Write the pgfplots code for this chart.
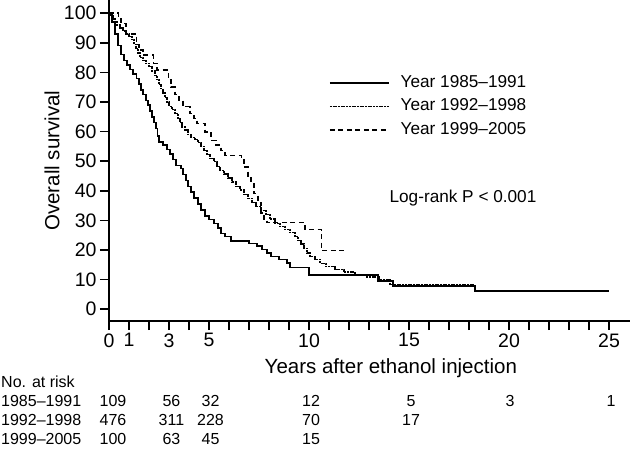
\documentclass[border=0pt]{standalone}
\usepackage{fontspec}
\setmainfont{Liberation Sans}
\usepackage{pgfplots}
\pgfplotsset{compat=1.18}
\begin{document}
\begin{tikzpicture}
\begin{axis}[
  x=20pt, y=2.96pt,
  xmin=0, xmax=26.05, ymin=-4, ymax=104.4,
  axis lines*=left,
  axis line style={line width=1.8pt},
  clip=false,
  tick align=outside,
  major tick length=9pt, minor tick length=9pt,
  every tick/.style={line width=1.5pt, black},
  xtick={0,1,3,5,10,15,20,25},
  minor xtick={2,4,6,7,8,9,11,12,13,14,16,17,18,19,21,22,23,24},
  ytick={0,10,...,100},
  ticklabel style={font=\fontsize{19.5}{20}\selectfont},
  /pgf/number format/assume math mode=true,
  xlabel={Years after ethanol injection},
  ylabel={Overall survival},
  label style={font=\fontsize{20.5}{22}\selectfont},
  xlabel style={at={(axis description cs:0.541,-0.1464)}, anchor=center},
  ylabel style={at={(axis description cs:-0.1094,0.5)}, anchor=center},
  const plot,
  legend cell align=left,
  legend style={at={(axis cs:11,79.2)}, anchor=north west, draw=none, fill=none,
    inner sep=0pt, row sep=7.5pt, column sep=11pt, font=\fontsize{17.2}{18}\selectfont,
    nodes={inner sep=0pt, text height=12.5pt, text depth=3.5pt}},
  legend image code/.code={\draw[#1] (0pt,0pt) -- (59pt,0pt);},
]
\addplot[black, line width=1.5pt] coordinates {
(0,100) (0.15,97) (0.3,93) (0.45,89) (0.6,86) (0.75,84) (0.9,82.5) (1.05,81)
(1.2,79.5) (1.38,78) (1.5,76) (1.6,74) (1.7,72.5) (1.85,70.5) (1.95,69) (2.05,67)
(2.15,65) (2.25,63) (2.35,61) (2.42,58.5) (2.5,56.5) (2.7,55.5) (2.9,54) (3.05,52.5)
(3.2,50.5) (3.35,48.5) (3.6,47.5) (3.7,45.5) (3.85,43.5) (3.95,41.5) (4.1,39.5)
(4.25,37.5) (4.45,35.5) (4.6,33.5) (4.8,31.5) (5.0,30.3) (5.25,29) (5.45,27.5)
(5.6,25.5) (5.8,24.5) (6.1,23.1) (7.0,22.2) (7.4,21.3) (7.65,20.2) (7.9,19)
(8.1,17.8) (8.5,16.8) (8.9,15.6) (9.05,14) (10.0,11.5) (13.45,9.5) (14.2,7.8)
(18.3,6.2) (25,6.2)
};
\addlegendentry{Year 1985--1991}
\addplot[black, line width=1.3pt, dash pattern=on 2pt off 0.7pt] coordinates {
(0,100) (0.1,99) (0.2,98) (0.3,97) (0.4,96) (0.55,95) (0.7,94) (0.85,93) (1.0,92)
(1.15,91) (1.25,89.5) (1.35,88) (1.45,86.5) (1.55,85) (1.7,84) (1.85,83) (2.0,82)
(2.15,80.5) (2.3,79) (2.4,77.5) (2.5,76) (2.6,74.5) (2.7,73) (2.8,71.5) (2.9,70)
(3.0,68.5) (3.15,67.5) (3.3,66) (3.45,64.5) (3.55,63) (3.65,61.5) (3.8,60.5)
(3.95,59) (4.1,58) (4.3,57.2) (4.45,56.2) (4.6,55) (4.75,53.5) (4.9,52.3) (5.05,51)
(5.25,49.8) (5.4,48.3) (5.55,46.8) (5.75,45.7) (5.95,44.3) (6.15,43) (6.35,41.5)
(6.55,40.3) (6.75,38.8) (6.95,37.5) (7.15,36) (7.35,34.7) (7.6,33.3) (7.85,32)
(8.05,30.5) (8.3,29) (8.55,28) (8.8,27) (9.05,25.8) (9.3,24.5) (9.45,23.3)
(9.6,22) (9.75,20.5) (9.9,19) (10.05,17.7) (10.3,16.8) (10.55,15.5) (10.85,14.3)
(11.3,13.3) (11.75,12.6) (12.3,11.7) (12.9,10.9) (13.5,10.1) (14.05,8.4) (18.3,8.4)
};
\addlegendentry{Year 1992--1998}
\addplot[black, line width=1.4pt, dash pattern=on 5pt off 3.5pt] coordinates {
(0,100) (0.47,98) (0.6,96.5) (0.85,93) (1.38,89.5) (1.5,87.5) (1.7,85.8) (2.22,83)
(2.4,80.8) (2.97,77.4) (3.1,75) (3.3,72.5) (3.5,70.6) (3.7,68.4) (4.05,66) (4.25,64.5)
(4.4,62.7) (4.8,59.9) (5.1,57) (5.35,55.5) (5.6,53.7) (5.8,52) (6.63,50.5) (6.75,48)
(6.95,45) (7.1,42.5) (7.25,39) (7.45,36) (7.6,32.5) (7.75,30.5) (7.9,29.2)
(9.8,26.9) (10.63,19.9) (11.8,19.9)
};
\addlegendentry{Year 1999--2005}
\node[font=\fontsize{17.2}{18}\selectfont] at (axis cs:17.7,37.5) {Log-rank P < 0.001};
\end{axis}
\begin{scope}[every node/.style={font=\fontsize{16}{18}\selectfont, inner sep=0pt}]
\node[anchor=base west] at (-108pt,-66.7pt) {No. at risk};
\node[anchor=base west] at (-108pt,-85.7pt) {1985--1991};
\node[anchor=base west] at (-108pt,-104pt) {1992--1998};
\node[anchor=base west] at (-108pt,-123pt) {1999--2005};
% column 0
\node[anchor=base] at (4pt,-85.7pt) {109};
\node[anchor=base] at (4pt,-104pt) {476};
\node[anchor=base] at (4pt,-123pt) {100};
% column 3
\node[anchor=base] at (62.5pt,-85.7pt) {56};
\node[anchor=base] at (62.5pt,-104pt) {311};
\node[anchor=base] at (62.5pt,-123pt) {63};
% column 5
\node[anchor=base] at (101.5pt,-85.7pt) {32};
\node[anchor=base] at (101.5pt,-104pt) {228};
\node[anchor=base] at (101.5pt,-123pt) {45};
% column 10
\node[anchor=base] at (202pt,-85.7pt) {12};
\node[anchor=base] at (202pt,-104pt) {70};
\node[anchor=base] at (202pt,-123pt) {15};
% column 15
\node[anchor=base] at (302pt,-85.7pt) {5};
\node[anchor=base] at (302pt,-104pt) {17};
% column 20, 25
\node[anchor=base] at (401pt,-85.7pt) {3};
\node[anchor=base] at (502pt,-85.7pt) {1};
\end{scope}
\pgfresetboundingbox
\path[use as bounding box] (-109pt,-129pt) rectangle (522pt,321pt);
\end{tikzpicture}
\end{document}
